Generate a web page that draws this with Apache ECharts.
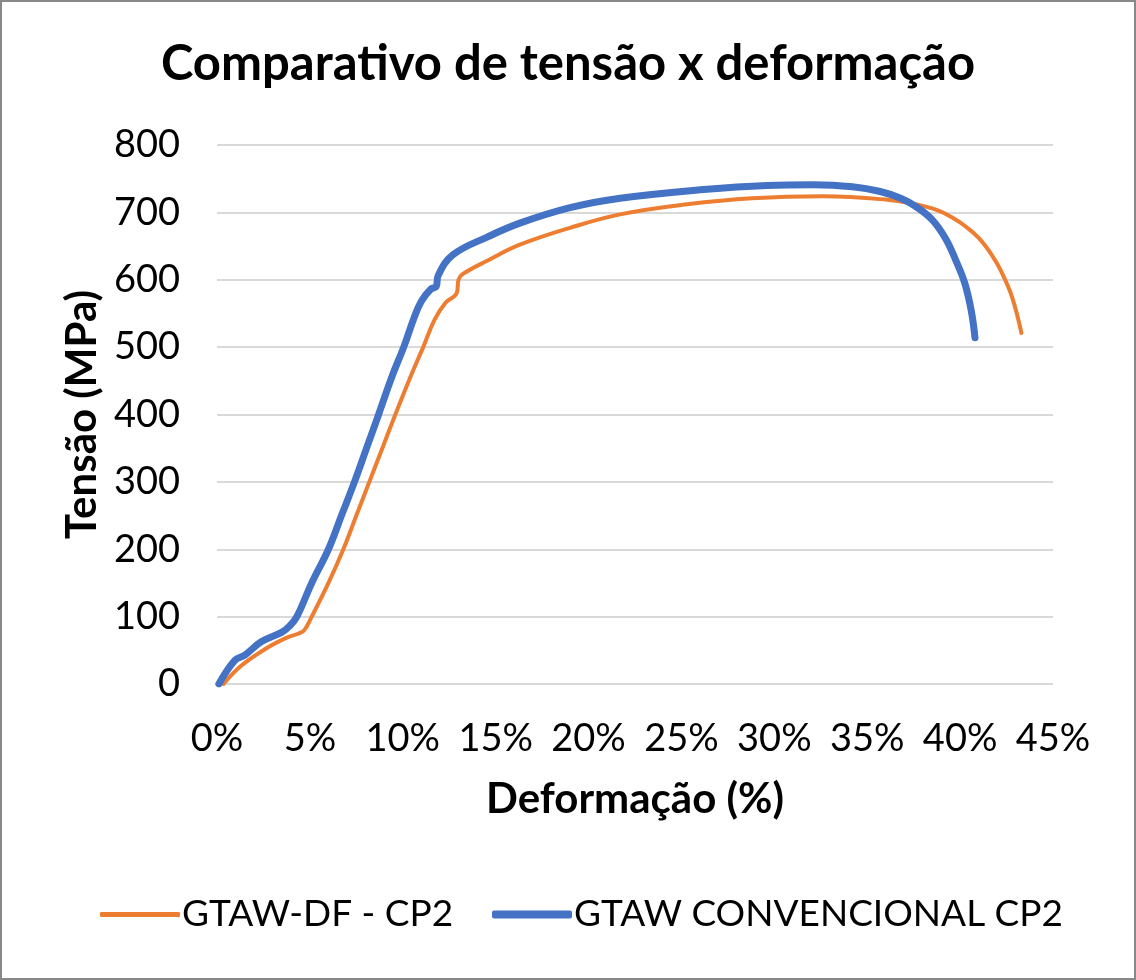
<!DOCTYPE html>
<html>
<head>
<meta charset="utf-8">
<script src="https://cdn.jsdelivr.net/npm/echarts@6/dist/echarts.min.js"></script>
<style>
  html, body { margin: 0; padding: 0; background: #fff; }
  #chart { width: 1136px; height: 980px; box-sizing: border-box; border: 2px solid #888; }
</style>
</head>
<body>
<div id="chart"></div>
<script>
// Deformação (%) , Tensão (MPa)
const seriesNames = ['GTAW-DF - CP2', 'GTAW CONVENCIONAL CP2'];
const xTicks = [0, 5, 10, 15, 20, 25, 30, 35, 40, 45];
const yTicks = [0, 100, 200, 300, 400, 500, 600, 700, 800];

const gtawDF = [
  [0.35,0],[1.3,27],[2.6,52],[3.7,68],[4.4,75],[4.7,80],[5.1,100],[6.0,150],[6.8,200],
  [7.5,250],[8.2,300],[8.9,350],[9.6,400],[10.4,455],[11.1,500],[11.7,540],[12.3,566],
  [12.9,580],[13.0,600],[13.2,608],[14.6,629],[16.3,652],[19.0,677],[21.7,697],[25.3,712],
  [28.8,721],[32.6,724],[36.0,719],[37.6,712],[38.8,703],[39.6,692],[40.3,679],[41.0,662],
  [41.7,637],[42.2,613],[42.8,574],[43.3,521]
];
const gtawConv = [
  [0.1,0],[0.96,35],[1.5,43],[2.4,63],[3.5,77],[3.9,86],[4.3,100],[5.1,150],[6.0,200],
  [6.7,250],[7.4,300],[8.05,350],[8.7,400],[9.4,455],[10.05,500],[10.6,543],[11.0,568],
  [11.5,586],[11.8,590],[11.9,606],[12.7,637],[14.6,664],[16.3,684],[19.0,707],[21.7,721],
  [26.2,734],[29.6,740],[32.1,741],[34.2,738],[35.7,731],[36.8,721],[37.6,709],[38.5,689],
  [39.2,662],[39.75,630],[40.25,595],[40.6,554],[40.8,514]
];

const FONT = 'Lato, "Open Sans", sans-serif';
const legendText = { fontFamily: FONT, fontSize: 37, color: '#000', padding: [0, 0, 0, -3] };
const chart = echarts.init(document.getElementById('chart'));
chart.setOption({
  animation: false,
  backgroundColor: '#fff',
  title: {
    text: 'Comparativo de tensão x deformação',
    left: 'center', top: 33,
    textStyle: { fontFamily: FONT, fontWeight: 'bold', fontSize: 49, color: '#000' }
  },
  legend: [
    { left: 93, top: 889, itemWidth: 80, itemHeight: 5, icon: 'roundRect',
      textStyle: legendText, data: [seriesNames[0]] },
    { left: 485, top: 889, itemWidth: 80, itemHeight: 8, icon: 'roundRect',
      textStyle: legendText, data: [seriesNames[1]] }
  ],
  grid: { left: 215, right: 81, top: 143, bottom: 294, containLabel: false },
  xAxis: {
    type: 'value', min: xTicks[0], max: xTicks[xTicks.length - 1], interval: 5,
    name: 'Deformação (%)', nameLocation: 'middle', nameGap: 94,
    nameTextStyle: { fontFamily: FONT, fontWeight: 'bold', fontSize: 42, color: '#000' },
    axisLine: { show: false }, axisTick: { show: false }, splitLine: { show: false },
    axisLabel: { formatter: '{value}%', fontFamily: FONT, fontSize: 38, color: '#000', margin: 36 }
  },
  yAxis: {
    type: 'value', min: yTicks[0], max: yTicks[yTicks.length - 1], interval: 100,
    name: 'Tensão (MPa)', nameLocation: 'middle', nameGap: 109, nameRotate: 90,
    nameTextStyle: { fontFamily: FONT, fontWeight: 'bold', fontSize: 42, color: '#000' },
    axisLine: { show: false }, axisTick: { show: false },
    splitLine: { show: true, lineStyle: { color: '#d9d9d9', width: 2 } },
    axisLabel: { fontFamily: FONT, fontSize: 38, color: '#000', margin: 37 }
  },
  series: [
    { name: seriesNames[0], type: 'line', data: gtawDF, symbol: 'none', smooth: 0.4,
      lineStyle: { color: '#ed7d31', width: 4, cap: 'round', join: 'round' }, itemStyle: { color: '#ed7d31' }, z: 2 },
    { name: seriesNames[1], type: 'line', data: gtawConv, symbol: 'none', smooth: 0.4,
      lineStyle: { color: '#4472c4', width: 7, cap: 'round', join: 'round' }, itemStyle: { color: '#4472c4' }, z: 3 }
  ]
});
</script>
</body>
</html>
